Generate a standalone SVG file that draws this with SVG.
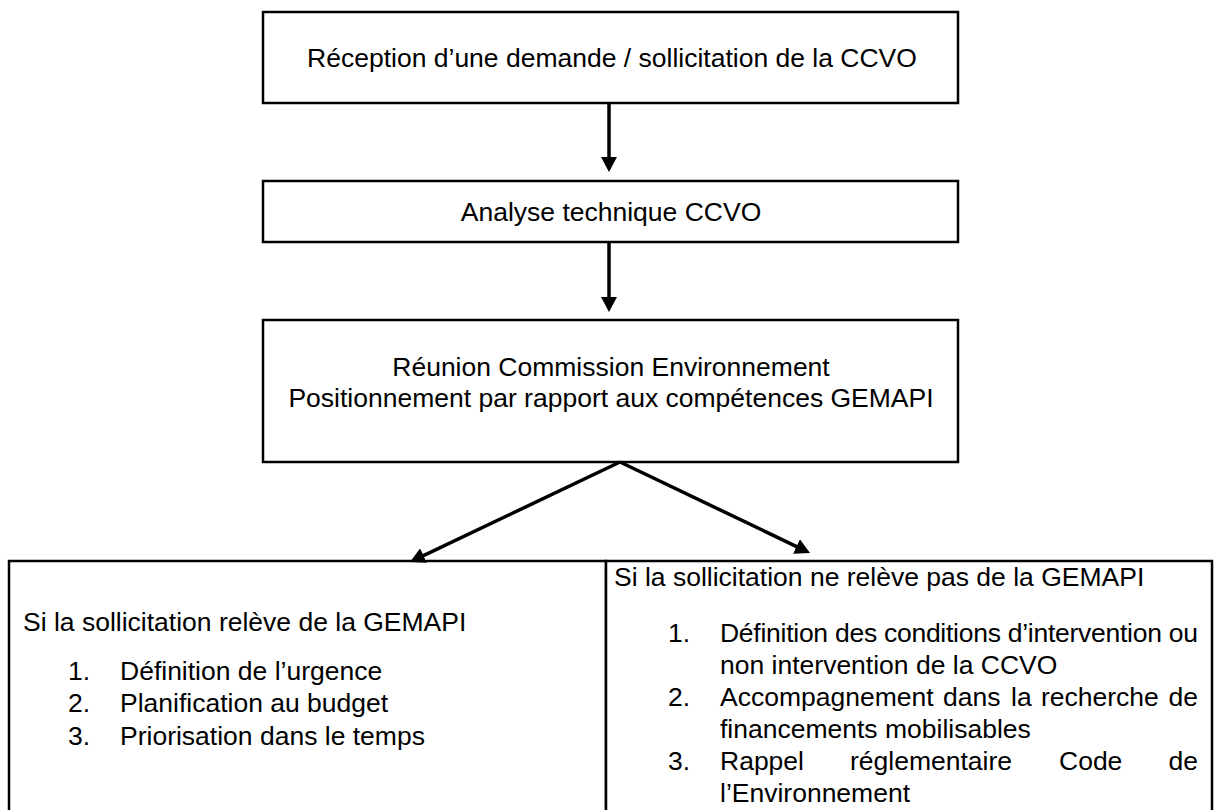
<svg xmlns="http://www.w3.org/2000/svg" width="1214" height="810" viewBox="0 0 1214 810">
<style>
.box{fill:#fff;stroke:#000;stroke-width:2.5}
.t{font-family:"Liberation Sans",Arial,sans-serif;font-size:26.5px;fill:#000}
.c{text-anchor:middle}
.e{text-anchor:end}
.ln{stroke:#000;stroke-width:3.5;fill:none}
</style>
<defs>
<marker id="ah" markerWidth="16" markerHeight="16" refX="10" refY="8" orient="auto" markerUnits="userSpaceOnUse">
<path d="M0,0 L15,8 L0,16 Z" fill="#000"/>
</marker>
</defs>
<rect width="1214" height="810" fill="#fff"/>
<g id="n1">
<rect class="box" x="263" y="12" width="695" height="91"/>
<text class="t c" x="612" y="67">Réception d’une demande / sollicitation de la CCVO</text>
</g>
<g id="n2">
<rect class="box" x="263" y="181" width="695" height="61"/>
<text class="t c" x="611" y="221">Analyse technique CCVO</text>
</g>
<g id="n3">
<rect class="box" x="263" y="320" width="695" height="142"/>
<text class="t c" x="611" y="376">Réunion Commission Environnement</text>
<text class="t c" x="611" y="407">Positionnement par rapport aux compétences GEMAPI</text>
</g>
<g id="n4">
<rect class="box" x="9" y="561" width="597" height="260"/>
<text class="t" x="23" y="631">Si la sollicitation relève de la GEMAPI</text>
<text class="t" x="68" y="680">1.</text><text class="t" x="120" y="680">Définition de l’urgence</text>
<text class="t" x="68" y="712">2.</text><text class="t" x="120" y="712">Planification au budget</text>
<text class="t" x="68" y="745">3.</text><text class="t" x="120" y="745">Priorisation dans le temps</text>
</g>
<g id="n5">
<rect class="box" x="606" y="561" width="606" height="260"/>
<text class="t" x="614" y="586">Si la sollicitation ne relève pas de la GEMAPI</text>
<text class="t" x="668" y="642">1.</text><text class="t" x="720" y="642" textLength="478" lengthAdjust="spacing">Définition des conditions d’intervention ou</text>
<text class="t" x="720" y="674">non intervention de la CCVO</text>
<text class="t" x="668" y="706">2.</text>
<text class="t" x="720" y="706">Accompagnement</text><text class="t" x="943" y="706">dans</text><text class="t" x="1011" y="706">la</text><text class="t" x="1041" y="706">recherche</text><text class="t e" x="1198" y="706">de</text>
<text class="t" x="720" y="738">financements mobilisables</text>
<text class="t" x="668" y="770">3.</text>
<text class="t" x="720" y="770">Rappel</text><text class="t" x="850" y="770">réglementaire</text><text class="t" x="1059" y="770">Code</text><text class="t e" x="1198" y="770">de</text>
<text class="t" x="720" y="802">l’Environnement</text>
</g>
<g id="connectors">
<line class="ln" x1="609" y1="103" x2="609" y2="167" marker-end="url(#ah)"/>
<line class="ln" x1="609" y1="242" x2="609" y2="307" marker-end="url(#ah)"/>
<line class="ln" x1="620" y1="462" x2="414.5" y2="559.9" marker-end="url(#ah)"/>
<line class="ln" x1="620" y1="462" x2="805.5" y2="550.8" marker-end="url(#ah)"/>
</g>
</svg>
